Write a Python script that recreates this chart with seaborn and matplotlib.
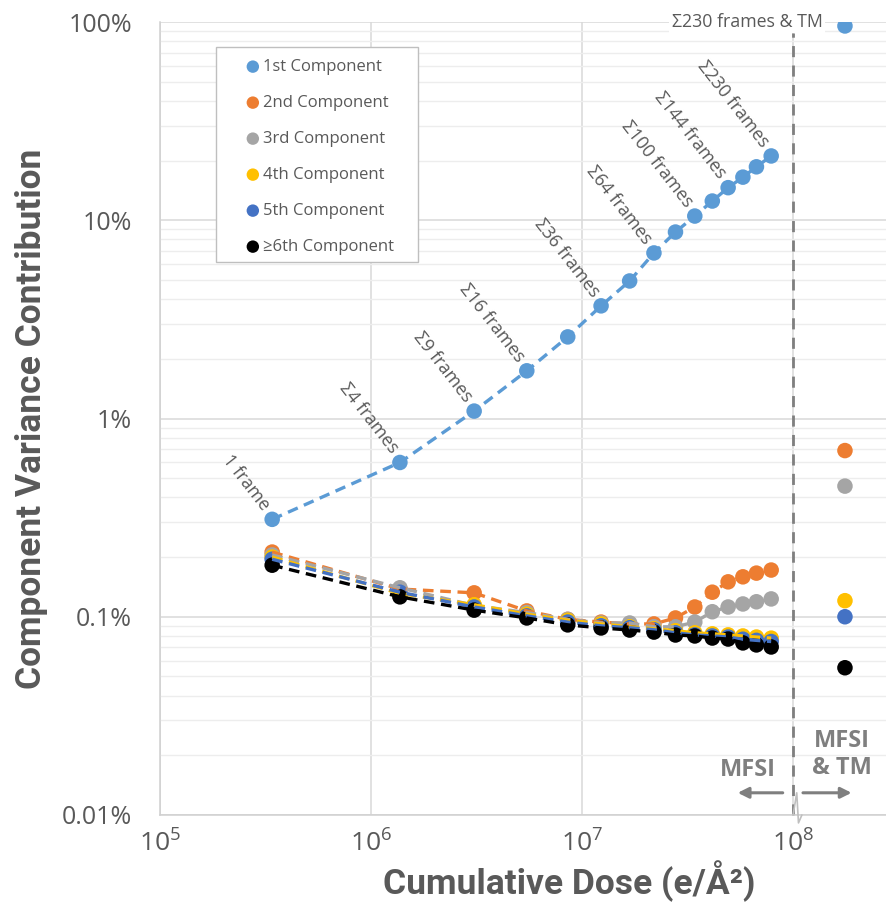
import math
import matplotlib
matplotlib.use("Agg")
import matplotlib.pyplot as plt
import matplotlib.transforms as mtransforms
from matplotlib.patches import Rectangle
import seaborn as sns

# cumulative dose (e/A^2) for each summed-frame step
frames = [1, 4, 9, 16, 25, 36, 49, 64, 81, 100, 121, 144, 169, 196, 230]
dose = [3.4e5, 1.37e6, 3.08e6, 5.47e6, 8.55e6, 1.23e7, 1.68e7, 2.19e7,
        2.77e7, 3.42e7, 4.14e7, 4.92e7, 5.78e7, 6.70e7, 7.87e7]
frame_labels = ["1 frame", "Σ4 frames", "Σ9 frames", "Σ16 frames", "", "Σ36 frames", "",
                "Σ64 frames", "", "Σ100 frames", "", "Σ144 frames", "", "", "Σ230 frames"]

# variance contribution in percent
comp1 = [0.31, 0.60, 1.09, 1.74, 2.58, 3.70, 4.94, 6.84, 8.72, 10.5, 12.5, 14.6, 16.5, 18.6, 21.1]
comp2 = [0.212, 0.138, 0.132, 0.107, 0.097, 0.094, 0.092, 0.092, 0.0986, 0.112, 0.133, 0.150, 0.159, 0.166, 0.172]
comp3 = [0.205, 0.140, 0.114, 0.105, 0.097, 0.093, 0.093, 0.089, 0.089, 0.094, 0.106, 0.112, 0.116, 0.119, 0.123]
comp4 = [0.200, 0.131, 0.115, 0.103, 0.096, 0.092, 0.089, 0.087, 0.085, 0.083, 0.082, 0.081, 0.080, 0.079, 0.078]
comp5 = [0.195, 0.133, 0.112, 0.101, 0.094, 0.090, 0.088, 0.086, 0.083, 0.081, 0.080, 0.079, 0.077, 0.076, 0.075]
comp6 = [0.182, 0.126, 0.108, 0.0986, 0.091, 0.0878, 0.0857, 0.0837, 0.0809, 0.080, 0.0781, 0.0772, 0.0738, 0.0721, 0.0704]

# MFSI & TM result (single point right of the break)
tm_dose = 1.76e8
tm_values = [95.5, 0.689, 0.456, 0.1205, 0.100, 0.0553]

names = ["1st Component", "2nd Component", "3rd Component",
         "4th Component", "5th Component", "≥6th Component"]
colors = ["#5B9BD5", "#ED7D31", "#A5A5A5", "#FFC000", "#4472C4", "#000000"]
series = [comp1, comp2, comp3, comp4, comp5, comp6]

yticks = [0.01, 0.1, 1, 10, 100]
xticks = [1e5, 1e6, 1e7, 1e8]

sns.set_theme(style="white")
plt.rcParams['font.family'] = ['Open Sans', 'DejaVu Sans']
plt.rcParams['mathtext.fontset'] = 'custom'
plt.rcParams['mathtext.rm'] = 'Open Sans'
plt.rcParams['mathtext.it'] = 'Open Sans'

grey_txt = "#595959"
label_font = ["Roboto", "DejaVu Sans"]
fig = plt.figure(figsize=(8.86, 9.10), dpi=100)
ax = fig.add_axes([160 / 886, 95 / 910, 726 / 886, 793 / 910])

# markers first, dashed lines on top (like Excel trendlines)
for vals, tm, c, name in zip(series, tm_values, colors, names):
    sns.scatterplot(x=dose + [tm_dose], y=vals + [tm], ax=ax,
                    color=c, s=125, edgecolor="none", label=name, zorder=2)
for vals, c in zip(series, colors):
    sns.lineplot(x=dose, y=vals, ax=ax, color=c, linewidth=2.4,
                 linestyle=(0, (3.2, 2.0)), zorder=3, legend=False)

ax.set_xscale("log")
ax.set_yscale("log")
ax.set_xlim(1e5, 10 ** 8.44)
ax.set_ylim(0.01, 100)

ax.set_yticks(yticks)
ax.set_yticklabels([f"{v:g}%" for v in yticks])
ax.set_xticks(xticks)
ax.set_xticklabels([rf"$\mathregular{{10^{{{round(math.log10(v))}}}}}$" for v in xticks])
ax.xaxis.set_minor_locator(matplotlib.ticker.NullLocator())
ax.yaxis.set_minor_locator(matplotlib.ticker.LogLocator(base=10, subs=range(2, 10)))
ax.yaxis.set_minor_formatter(matplotlib.ticker.NullFormatter())
ax.tick_params(axis="y", which="both", length=0, pad=20, labelsize=18, labelcolor=grey_txt)
ax.tick_params(axis="x", which="both", length=0, pad=11, labelsize=19, labelcolor=grey_txt)

ax.grid(which="major", axis="y", color="#D9D9D9", lw=1.1)
ax.grid(which="minor", axis="y", color="#EDEDED", lw=1.0)
ax.grid(which="major", axis="x", color="#D9D9D9", lw=1.1)
for s in ["top", "right"]:
    ax.spines[s].set_visible(False)
for s in ["left", "bottom"]:
    ax.spines[s].set_color("#D0D0D0")
    ax.spines[s].set_linewidth(1.1)

fig.text(32 / 886, 1 - 419 / 910, "Component Variance Contribution", rotation=90,
         ha="center", va="center", fontsize=25.5, fontweight="bold", color=grey_txt,
         family=label_font)
fig.text(569 / 886, 1 - 881 / 910, "Cumulative Dose (e/Å²)", ha="center", va="center",
         fontsize=25.5, fontweight="bold", color=grey_txt, family=label_font)

# frame labels along the 1st component
for x, y, lab in zip(dose, comp1, frame_labels):
    if lab:
        ax.annotate(lab, (x, y), xytext=(-4, 8), textcoords="offset points",
                    rotation=-52, rotation_mode="anchor", ha="right", va="center",
                    fontsize=13, color=grey_txt)
ax.annotate("Σ230 frames & TM", (tm_dose, tm_values[0]), xytext=(-16, 3),
            textcoords="offset points", ha="right", va="center", fontsize=12.8,
            color=grey_txt, annotation_clip=False,
            bbox=dict(boxstyle="square,pad=0.15", fc="white", ec="none"))

# break between MFSI and MFSI & TM
trans = mtransforms.blended_transform_factory(ax.transData, ax.transAxes)
ax.plot([1e8, 1e8], [0, 0.986], transform=trans, color="#7F7F7F", lw=2,
        linestyle=(0, (4, 3)), zorder=1, clip_on=False)
ax.plot([1.0e8, 1.04e8, 1.06e8, 1.10e8], [0.0, 0.028, -0.01, 0.0], transform=trans,
        color="#BFBFBF", lw=1.2, clip_on=False, zorder=4)

arrow = dict(arrowstyle="-|>", color="#7F7F7F", lw=2.2, mutation_scale=16)
ax.annotate("", xy=(5.3e7, 0.028), xytext=(9.2e7, 0.028), xycoords=trans,
            textcoords=trans, arrowprops=arrow)
ax.annotate("", xy=(1.95e8, 0.028), xytext=(1.08e8, 0.028), xycoords=trans,
            textcoords=trans, arrowprops=arrow)
ax.text(6.1e7, 0.057, "MFSI", transform=trans, ha="center", va="center",
        fontsize=17, fontweight="bold", color="#7F7F7F")
ax.text(1.70e8, 0.076, "MFSI\n& TM", transform=trans, ha="center", va="center",
        fontsize=17, fontweight="bold", color="#7F7F7F", linespacing=1.15)

# legend: separate frame box, entries placed inside it
ax.add_patch(Rectangle((56 / 726, 553 / 793), 202 / 726, 215 / 793, transform=ax.transAxes,
                       facecolor="white", edgecolor="#BFBFBF", lw=1.0, zorder=5))
leg = ax.legend(loc="upper left", bbox_to_anchor=(84.5 / 726, 756 / 793), frameon=False,
                fontsize=12, labelspacing=1.2, handlelength=1.0, handletextpad=0.1,
                borderpad=0, borderaxespad=0, markerscale=0.8)
for t in leg.get_texts():
    t.set_color(grey_txt)
leg.set_zorder(6)

fig.savefig("out.png", dpi=100)
